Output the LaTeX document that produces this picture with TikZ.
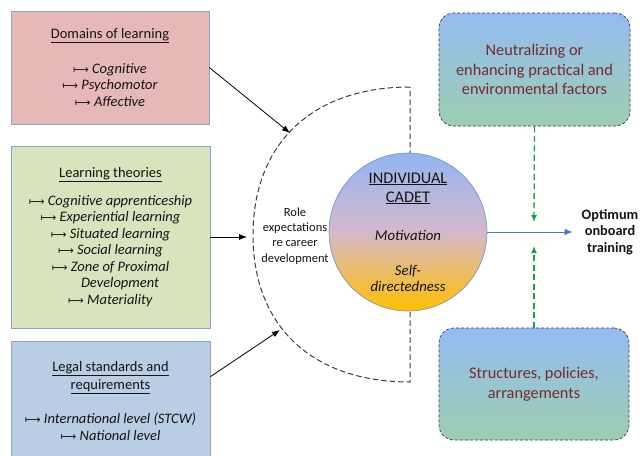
\documentclass[tikz,border=0pt]{standalone}
\usepackage{fontspec}
\setmainfont{Carlito}
\newfontfamily\symf{DejaVu Sans}
\usetikzlibrary{arrows.meta,shadows,calc}
\definecolor{pinkc}{RGB}{230,185,184}
\definecolor{greenc}{RGB}{215,228,189}
\definecolor{bluec}{RGB}{185,205,229}
\definecolor{bordc}{RGB}{140,165,200}
\definecolor{ctop}{RGB}{145,182,242}
\definecolor{cmid}{RGB}{214,184,204}
\definecolor{cbot}{RGB}{255,192,0}
\definecolor{rtop}{RGB}{148,188,242}
\definecolor{rbot}{RGB}{156,206,176}
\definecolor{rtext}{RGB}{118,42,42}
\definecolor{arcc}{RGB}{60,60,60}
\definecolor{bluea}{RGB}{72,122,196}
\definecolor{greena}{RGB}{20,160,80}
\definecolor{txt}{RGB}{20,20,20}
\newcommand{\marr}{{\symf\fontsize{11}{11}\selectfont ⟼}\ }
\begin{document}
\begin{tikzpicture}[x=1pt,y=-1pt,
  lbox/.style={draw=bordc, line width=0.6pt, rectangle, align=center, text=txt,
     font=\fontsize{14.5}{16.5}\selectfont, inner sep=0pt,
     drop shadow={shadow xshift=0.8pt, shadow yshift=-1.2pt, opacity=0.25}},
  rbox/.style={draw=arcc, dashed, dash pattern=on 3pt off 2pt, line width=0.7pt,
     rounded corners=15pt, top color=rtop, bottom color=rbot, align=center,
     text=rtext, font=\fontsize{16.3}{19.8}\selectfont, inner sep=0pt},
  blk/.style={-{Latex[length=8pt,width=6pt]}, line width=0.8pt, black},
  garr/.style={-{Latex[length=7pt,width=6pt]}, line width=1.3pt, greena, dash pattern=on 6pt off 3.5pt},
  darc/.style={arcc, line width=1pt, dash pattern=on 5.5pt off 3pt}
]
\useasboundingbox (0,0) rectangle (642,455);
\begin{scope}
\clip (0,0) rectangle (642,455);
% left boxes
\node[lbox, fill=pinkc, minimum width=198pt, minimum height=113pt] (dom) at (110,67.5)
 {\underline{Domains of learning}\\[18pt]
  \marr\textit{Cognitive}\\ \marr\textit{Psychomotor}\\ \marr\textit{Affective}};
\node[lbox, fill=greenc, minimum width=199pt, minimum height=182pt] (lt) at (110.5,237)
 {\underline{Learning theories}\\[11.5pt]
  \marr\textit{Cognitive apprenticeship}\\
  \marr\textit{Experiential learning}\\
  \marr\textit{Situated learning}\\
  \marr\textit{Social learning}\\
  \marr\textit{Zone of Proximal}\\
  \phantom{\marr}\textit{Development}\\
  \marr\textit{Materiality}};
\node[lbox, fill=bluec, minimum width=199pt, minimum height=120pt] (leg) at (110.5,401)
 {\underline{Legal standards and}\\[1.5pt] \underline{requirements}\\[18pt]
  \marr\textit{International level (STCW)}\\ \marr\textit{National level}};
\end{scope}
% dashed half-disc
\coordinate (aT) at (410,87);
\coordinate (aL) at (253,235);
\coordinate (aB) at (410,382);
\draw[darc] (aT) .. controls (312.7,87) and (253,143.2) .. (aL)
  .. controls (253,326.8) and (312.7,382) .. (aB) -- (aT);
% role text
\node[align=center, text=txt, font=\fontsize{12.5}{15.3}\selectfont] (role) at (295,236)
 {Role\\expectations\\re career\\development};
% cadet circle
\node[circle, draw=bluea!80, line width=0.6pt, minimum size=158pt, inner sep=0pt,
  top color=ctop, bottom color=cbot, middle color=cmid, align=center, text=txt,
  font=\fontsize{14.8}{17}\selectfont] (cadet) at (408,232)
 {{\fontsize{16.3}{17}\selectfont\underline{INDIVIDUAL}}\\[2pt]
  {\fontsize{16.3}{17}\selectfont\underline{CADET}}\\[21pt]
  \textit{Motivation}\\[18pt]
  \textit{Self-}\\[-1pt]\textit{directedness}};
% right boxes
\node[rbox, minimum width=191pt, minimum height=113pt] (nef) at (534.5,69.5)
 {Neutralizing or\\enhancing practical and\\environmental factors};
\node[rbox, minimum width=190pt, minimum height=112pt] (spa) at (534,384)
 {Structures, policies,\\arrangements};
% outcome
\node[align=center, text=txt, font=\bfseries\fontsize{14.3}{16.8}\selectfont, inner sep=2pt] (opt) at (610,232)
 {Optimum\\onboard\\training};
% arrow endpoints
\coordinate (a1) at (290,133);
\coordinate (a2) at (247,237);
\coordinate (a3) at (280,330);
\coordinate (g1) at (534,222);
\coordinate (g2) at (534,246);
\draw[blk] (dom.east) -- (a1);
\draw[blk] (lt.east) -- (a2);
\draw[blk] ([yshift=-36pt]leg.north east) -- (a3);
\draw[-{Latex[length=8pt,width=7pt]}, line width=1pt, bluea, shorten >=7pt] (cadet.east) -- (opt.west);
\draw[garr] (nef.south) -- (g1);
\draw[garr] (spa.north) -- (g2);
\end{tikzpicture}
\end{document}
